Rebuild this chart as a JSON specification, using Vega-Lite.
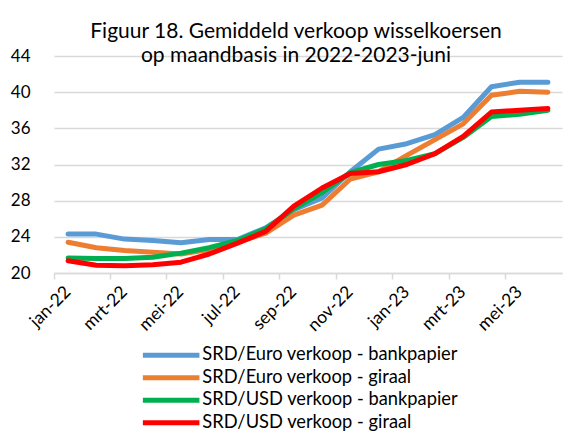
{
  "$schema": "https://vega.github.io/schema/vega-lite/v6.json",
  "autosize": {"type": "none"},
  "padding": {"left": 54, "top": 56, "right": 5, "bottom": 159},
  "width": 508,
  "height": 217,
  "background": "white",
  "config": {
    "font": "Lato",
    "view": {"stroke": null}
  },
  "title": {
    "text": ["Figuur 18. Gemiddeld verkoop wisselkoersen", "op maandbasis in 2022-2023-juni"],
    "font": "Lato",
    "fontSize": 21,
    "fontWeight": "normal",
    "color": "#000000",
    "anchor": "middle",
    "baseline": "alphabetic",
    "lineHeight": 24,
    "offset": -36,
    "dx": -12
  },
  "data": {
    "values": [
      {"month": "jan-22", "series": "SRD/Euro verkoop - bankpapier", "value": 24.3},
      {"month": "feb-22", "series": "SRD/Euro verkoop - bankpapier", "value": 24.3},
      {"month": "mrt-22", "series": "SRD/Euro verkoop - bankpapier", "value": 23.75},
      {"month": "apr-22", "series": "SRD/Euro verkoop - bankpapier", "value": 23.6},
      {"month": "mei-22", "series": "SRD/Euro verkoop - bankpapier", "value": 23.35},
      {"month": "jun-22", "series": "SRD/Euro verkoop - bankpapier", "value": 23.7},
      {"month": "jul-22", "series": "SRD/Euro verkoop - bankpapier", "value": 23.7},
      {"month": "aug-22", "series": "SRD/Euro verkoop - bankpapier", "value": 25.0},
      {"month": "sep-22", "series": "SRD/Euro verkoop - bankpapier", "value": 27.0},
      {"month": "okt-22", "series": "SRD/Euro verkoop - bankpapier", "value": 28.3},
      {"month": "nov-22", "series": "SRD/Euro verkoop - bankpapier", "value": 31.2},
      {"month": "dec-22", "series": "SRD/Euro verkoop - bankpapier", "value": 33.7},
      {"month": "jan-23", "series": "SRD/Euro verkoop - bankpapier", "value": 34.3},
      {"month": "feb-23", "series": "SRD/Euro verkoop - bankpapier", "value": 35.3},
      {"month": "mrt-23", "series": "SRD/Euro verkoop - bankpapier", "value": 37.2},
      {"month": "apr-23", "series": "SRD/Euro verkoop - bankpapier", "value": 40.6},
      {"month": "mei-23", "series": "SRD/Euro verkoop - bankpapier", "value": 41.1},
      {"month": "jun-23", "series": "SRD/Euro verkoop - bankpapier", "value": 41.1},
      {"month": "jan-22", "series": "SRD/Euro verkoop - giraal", "value": 23.4},
      {"month": "feb-22", "series": "SRD/Euro verkoop - giraal", "value": 22.8},
      {"month": "mrt-22", "series": "SRD/Euro verkoop - giraal", "value": 22.5},
      {"month": "apr-22", "series": "SRD/Euro verkoop - giraal", "value": 22.3},
      {"month": "mei-22", "series": "SRD/Euro verkoop - giraal", "value": 22.1},
      {"month": "jun-22", "series": "SRD/Euro verkoop - giraal", "value": 22.6},
      {"month": "jul-22", "series": "SRD/Euro verkoop - giraal", "value": 23.4},
      {"month": "aug-22", "series": "SRD/Euro verkoop - giraal", "value": 24.4},
      {"month": "sep-22", "series": "SRD/Euro verkoop - giraal", "value": 26.4},
      {"month": "okt-22", "series": "SRD/Euro verkoop - giraal", "value": 27.5},
      {"month": "nov-22", "series": "SRD/Euro verkoop - giraal", "value": 30.4},
      {"month": "dec-22", "series": "SRD/Euro verkoop - giraal", "value": 31.2},
      {"month": "jan-23", "series": "SRD/Euro verkoop - giraal", "value": 33.0},
      {"month": "feb-23", "series": "SRD/Euro verkoop - giraal", "value": 34.75},
      {"month": "mrt-23", "series": "SRD/Euro verkoop - giraal", "value": 36.5},
      {"month": "apr-23", "series": "SRD/Euro verkoop - giraal", "value": 39.65},
      {"month": "mei-23", "series": "SRD/Euro verkoop - giraal", "value": 40.1},
      {"month": "jun-23", "series": "SRD/Euro verkoop - giraal", "value": 40.0},
      {"month": "jan-22", "series": "SRD/USD verkoop - bankpapier", "value": 21.65},
      {"month": "feb-22", "series": "SRD/USD verkoop - bankpapier", "value": 21.6},
      {"month": "mrt-22", "series": "SRD/USD verkoop - bankpapier", "value": 21.6},
      {"month": "apr-22", "series": "SRD/USD verkoop - bankpapier", "value": 21.75},
      {"month": "mei-22", "series": "SRD/USD verkoop - bankpapier", "value": 22.2},
      {"month": "jun-22", "series": "SRD/USD verkoop - bankpapier", "value": 22.8},
      {"month": "jul-22", "series": "SRD/USD verkoop - bankpapier", "value": 23.6},
      {"month": "aug-22", "series": "SRD/USD verkoop - bankpapier", "value": 24.9},
      {"month": "sep-22", "series": "SRD/USD verkoop - bankpapier", "value": 27.1},
      {"month": "okt-22", "series": "SRD/USD verkoop - bankpapier", "value": 28.9},
      {"month": "nov-22", "series": "SRD/USD verkoop - bankpapier", "value": 31.1},
      {"month": "dec-22", "series": "SRD/USD verkoop - bankpapier", "value": 32.0},
      {"month": "jan-23", "series": "SRD/USD verkoop - bankpapier", "value": 32.45},
      {"month": "feb-23", "series": "SRD/USD verkoop - bankpapier", "value": 33.2},
      {"month": "mrt-23", "series": "SRD/USD verkoop - bankpapier", "value": 35.0},
      {"month": "apr-23", "series": "SRD/USD verkoop - bankpapier", "value": 37.3},
      {"month": "mei-23", "series": "SRD/USD verkoop - bankpapier", "value": 37.55},
      {"month": "jun-23", "series": "SRD/USD verkoop - bankpapier", "value": 38.0},
      {"month": "jan-22", "series": "SRD/USD verkoop - giraal", "value": 21.35},
      {"month": "feb-22", "series": "SRD/USD verkoop - giraal", "value": 20.85},
      {"month": "mrt-22", "series": "SRD/USD verkoop - giraal", "value": 20.8},
      {"month": "apr-22", "series": "SRD/USD verkoop - giraal", "value": 20.9},
      {"month": "mei-22", "series": "SRD/USD verkoop - giraal", "value": 21.2},
      {"month": "jun-22", "series": "SRD/USD verkoop - giraal", "value": 22.1},
      {"month": "jul-22", "series": "SRD/USD verkoop - giraal", "value": 23.3},
      {"month": "aug-22", "series": "SRD/USD verkoop - giraal", "value": 24.6},
      {"month": "sep-22", "series": "SRD/USD verkoop - giraal", "value": 27.4},
      {"month": "okt-22", "series": "SRD/USD verkoop - giraal", "value": 29.4},
      {"month": "nov-22", "series": "SRD/USD verkoop - giraal", "value": 31.0},
      {"month": "dec-22", "series": "SRD/USD verkoop - giraal", "value": 31.2},
      {"month": "jan-23", "series": "SRD/USD verkoop - giraal", "value": 32.0},
      {"month": "feb-23", "series": "SRD/USD verkoop - giraal", "value": 33.2},
      {"month": "mrt-23", "series": "SRD/USD verkoop - giraal", "value": 35.1},
      {"month": "apr-23", "series": "SRD/USD verkoop - giraal", "value": 37.8},
      {"month": "mei-23", "series": "SRD/USD verkoop - giraal", "value": 38.0},
      {"month": "jun-23", "series": "SRD/USD verkoop - giraal", "value": 38.2}
    ]
  },
  "mark": {"type": "line", "strokeWidth": 5, "strokeJoin": "round", "strokeCap": "round"},
  "encoding": {
    "x": {
      "field": "month",
      "type": "ordinal",
      "sort": null,
      "scale": {"type": "band", "paddingInner": 0, "paddingOuter": 0},
      "axis": {
        "title": null,
        "values": ["jan-22", "mrt-22", "mei-22", "jul-22", "sep-22", "nov-22", "jan-23", "mrt-23", "mei-23"],
        "bandPosition": 0,
        "labelAngle": -45,
        "labelAlign": "right",
        "labelBaseline": "middle",
        "labelFontSize": 17.5,
        "labelColor": "#000000",
        "labelPadding": 10,
        "labelOffset": 0,
        "domainColor": "#d9d9d9",
        "domainWidth": 1.5,
        "tickColor": "#d9d9d9",
        "tickWidth": 1.5,
        "tickSize": 6,
        "grid": false
      }
    },
    "y": {
      "field": "value",
      "type": "quantitative",
      "scale": {"domain": [20, 44], "nice": false, "zero": false},
      "axis": {
        "title": null,
        "values": [20, 24, 28, 32, 36, 40, 44],
        "domain": false,
        "ticks": false,
        "labelPadding": 24,
        "labelFontSize": 17,
        "labelColor": "#000000",
        "gridColor": "#d9d9d9",
        "gridWidth": 1.5
      }
    },
    "color": {
      "field": "series",
      "type": "nominal",
      "sort": null,
      "scale": {
        "domain": ["SRD/Euro verkoop - bankpapier", "SRD/Euro verkoop - giraal", "SRD/USD verkoop - bankpapier", "SRD/USD verkoop - giraal"],
        "range": ["#5b9bd5", "#ed7d31", "#00b050", "#ff0000"]
      },
      "legend": {
        "title": null,
        "orient": "none",
        "legendX": 108,
        "legendY": 290,
        "padding": 0,
        "symbolType": "M-5,0H5",
        "symbolSize": 128,
        "symbolStrokeWidth": 5,
        "symbolStrokeCap": "round",
        "labelFontSize": 18.3,
        "labelColor": "#000000",
        "labelOffset": 22,
        "rowPadding": 1.5,
        "labelLimit": 400
      }
    }
  }
}
